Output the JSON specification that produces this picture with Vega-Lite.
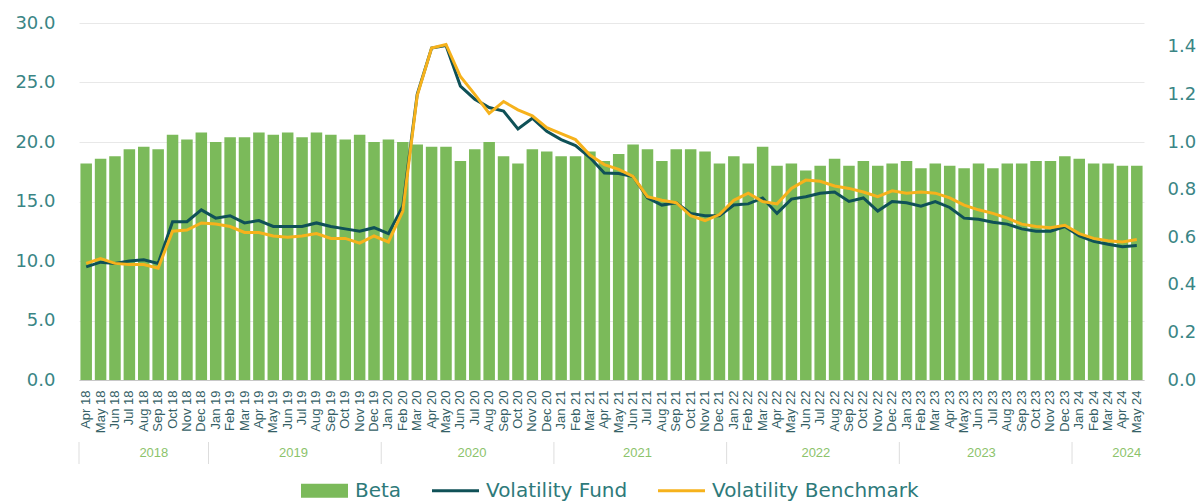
{
  "$schema": "https://vega.github.io/schema/vega-lite/v6.json",
  "background": "white",
  "padding": {"left": 14, "top": 14, "right": 5, "bottom": 0},
  "bounds": "flush",
  "spacing": 62,
  "config": {"view": {"stroke": null}},
  "datasets": {
    "months": [
      {"m": "Apr 18", "beta": 0.91, "fund": 9.5, "bench": 9.8},
      {"m": "May 18", "beta": 0.93, "fund": 9.9, "bench": 10.2},
      {"m": "Jun 18", "beta": 0.94, "fund": 9.8, "bench": 9.8},
      {"m": "Jul 18", "beta": 0.97, "fund": 10.0, "bench": 9.7},
      {"m": "Aug 18", "beta": 0.98, "fund": 10.1, "bench": 9.7},
      {"m": "Sep 18", "beta": 0.97, "fund": 9.8, "bench": 9.4},
      {"m": "Oct 18", "beta": 1.03, "fund": 13.3, "bench": 12.5},
      {"m": "Nov 18", "beta": 1.01, "fund": 13.3, "bench": 12.6},
      {"m": "Dec 18", "beta": 1.04, "fund": 14.3, "bench": 13.2},
      {"m": "Jan 19", "beta": 1.0, "fund": 13.6, "bench": 13.1},
      {"m": "Feb 19", "beta": 1.02, "fund": 13.8, "bench": 12.9},
      {"m": "Mar 19", "beta": 1.02, "fund": 13.2, "bench": 12.4},
      {"m": "Apr 19", "beta": 1.04, "fund": 13.4, "bench": 12.4},
      {"m": "May 19", "beta": 1.03, "fund": 12.9, "bench": 12.1},
      {"m": "Jun 19", "beta": 1.04, "fund": 12.9, "bench": 12.0},
      {"m": "Jul 19", "beta": 1.02, "fund": 12.9, "bench": 12.1},
      {"m": "Aug 19", "beta": 1.04, "fund": 13.2, "bench": 12.3},
      {"m": "Sep 19", "beta": 1.03, "fund": 12.9, "bench": 11.9},
      {"m": "Oct 19", "beta": 1.01, "fund": 12.7, "bench": 11.9},
      {"m": "Nov 19", "beta": 1.03, "fund": 12.5, "bench": 11.5},
      {"m": "Dec 19", "beta": 1.0, "fund": 12.8, "bench": 12.1},
      {"m": "Jan 20", "beta": 1.01, "fund": 12.3, "bench": 11.6},
      {"m": "Feb 20", "beta": 1.0, "fund": 14.6, "bench": 14.2},
      {"m": "Mar 20", "beta": 0.99, "fund": 24.0, "bench": 23.9},
      {"m": "Apr 20", "beta": 0.98, "fund": 27.9, "bench": 27.9},
      {"m": "May 20", "beta": 0.98, "fund": 28.1, "bench": 28.2},
      {"m": "Jun 20", "beta": 0.92, "fund": 24.7, "bench": 25.5},
      {"m": "Jul 20", "beta": 0.97, "fund": 23.6, "bench": 24.0},
      {"m": "Aug 20", "beta": 1.0, "fund": 22.9, "bench": 22.4},
      {"m": "Sep 20", "beta": 0.94, "fund": 22.6, "bench": 23.4},
      {"m": "Oct 20", "beta": 0.91, "fund": 21.1, "bench": 22.7},
      {"m": "Nov 20", "beta": 0.97, "fund": 22.0, "bench": 22.2},
      {"m": "Dec 20", "beta": 0.96, "fund": 20.9, "bench": 21.2},
      {"m": "Jan 21", "beta": 0.94, "fund": 20.2, "bench": 20.7},
      {"m": "Feb 21", "beta": 0.94, "fund": 19.7, "bench": 20.2},
      {"m": "Mar 21", "beta": 0.96, "fund": 18.7, "bench": 18.9},
      {"m": "Apr 21", "beta": 0.92, "fund": 17.4, "bench": 18.1},
      {"m": "May 21", "beta": 0.95, "fund": 17.35, "bench": 17.7},
      {"m": "Jun 21", "beta": 0.99, "fund": 17.1, "bench": 17.1},
      {"m": "Jul 21", "beta": 0.97, "fund": 15.3, "bench": 15.4},
      {"m": "Aug 21", "beta": 0.92, "fund": 14.7, "bench": 15.1},
      {"m": "Sep 21", "beta": 0.97, "fund": 14.9, "bench": 14.9},
      {"m": "Oct 21", "beta": 0.97, "fund": 14.0, "bench": 13.8},
      {"m": "Nov 21", "beta": 0.96, "fund": 13.8, "bench": 13.4},
      {"m": "Dec 21", "beta": 0.91, "fund": 13.8, "bench": 13.9},
      {"m": "Jan 22", "beta": 0.94, "fund": 14.7, "bench": 15.1},
      {"m": "Feb 22", "beta": 0.91, "fund": 14.8, "bench": 15.7},
      {"m": "Mar 22", "beta": 0.98, "fund": 15.3, "bench": 15.0},
      {"m": "Apr 22", "beta": 0.9, "fund": 14.0, "bench": 14.8},
      {"m": "May 22", "beta": 0.91, "fund": 15.2, "bench": 16.1},
      {"m": "Jun 22", "beta": 0.88, "fund": 15.4, "bench": 16.8},
      {"m": "Jul 22", "beta": 0.9, "fund": 15.7, "bench": 16.7},
      {"m": "Aug 22", "beta": 0.93, "fund": 15.8, "bench": 16.3},
      {"m": "Sep 22", "beta": 0.9, "fund": 15.0, "bench": 16.1},
      {"m": "Oct 22", "beta": 0.92, "fund": 15.3, "bench": 15.8},
      {"m": "Nov 22", "beta": 0.9, "fund": 14.2, "bench": 15.4},
      {"m": "Dec 22", "beta": 0.91, "fund": 15.0, "bench": 15.9},
      {"m": "Jan 23", "beta": 0.92, "fund": 14.9, "bench": 15.7},
      {"m": "Feb 23", "beta": 0.89, "fund": 14.6, "bench": 15.8},
      {"m": "Mar 23", "beta": 0.91, "fund": 15.0, "bench": 15.7},
      {"m": "Apr 23", "beta": 0.9, "fund": 14.5, "bench": 15.3},
      {"m": "May 23", "beta": 0.89, "fund": 13.6, "bench": 14.7},
      {"m": "Jun 23", "beta": 0.91, "fund": 13.5, "bench": 14.3},
      {"m": "Jul 23", "beta": 0.89, "fund": 13.25, "bench": 14.0},
      {"m": "Aug 23", "beta": 0.91, "fund": 13.1, "bench": 13.6},
      {"m": "Sep 23", "beta": 0.91, "fund": 12.7, "bench": 13.1},
      {"m": "Oct 23", "beta": 0.92, "fund": 12.5, "bench": 12.9},
      {"m": "Nov 23", "beta": 0.92, "fund": 12.5, "bench": 12.8},
      {"m": "Dec 23", "beta": 0.94, "fund": 12.9, "bench": 13.0},
      {"m": "Jan 24", "beta": 0.93, "fund": 12.1, "bench": 12.3},
      {"m": "Feb 24", "beta": 0.91, "fund": 11.65, "bench": 11.9},
      {"m": "Mar 24", "beta": 0.91, "fund": 11.4, "bench": 11.7},
      {"m": "Apr 24", "beta": 0.9, "fund": 11.2, "bench": 11.6},
      {"m": "May 24", "beta": 0.9, "fund": 11.3, "bench": 11.8}
    ],
    "years": [
      {"year": "2018", "pos": 5.2},
      {"year": "2019", "pos": 14.9},
      {"year": "2020", "pos": 27.3},
      {"year": "2021", "pos": 38.8},
      {"year": "2022", "pos": 51.2},
      {"year": "2023", "pos": 62.7},
      {"year": "2024", "pos": 72.8}
    ],
    "seps": [
      {"pos": 0}, {"pos": 9}, {"pos": 21}, {"pos": 33}, {"pos": 45}, {"pos": 57}, {"pos": 69}
    ]
  },
  "vconcat": [
    {
      "width": 1065,
      "height": 357,
      "data": {"name": "months"},
      "encoding": {
        "x": {
          "field": "m",
          "type": "ordinal",
          "sort": null,
          "title": null,
          "scale": {"paddingInner": 0.2, "paddingOuter": 0.1},
          "axis": {
            "labelAngle": -90,
            "labelFont": "Liberation Sans",
            "labelFontSize": 13,
            "labelColor": "#355f66",
            "labelOverlap": false,
            "labelPadding": 10,
            "ticks": false,
            "tickSize": 0,
            "domainColor": "#c8c8c8",
            "domainWidth": 1
          }
        }
      },
      "layer": [
        {
          "mark": {"type": "bar", "color": "#7bba5a"},
          "encoding": {
            "y": {
              "field": "beta",
              "type": "quantitative",
              "title": null,
              "scale": {"domain": [0, 1.5], "nice": false},
              "axis": {
                "orient": "right",
                "values": [0, 0.2, 0.4, 0.6, 0.8, 1.0, 1.2, 1.4],
                "format": ".1f",
                "grid": false,
                "domain": false,
                "ticks": false,
                "tickSize": 0,
                "labelPadding": 23,
                "labelFont": "DejaVu Sans",
                "labelFontSize": 18,
                "labelColor": "#3a8585"
              }
            },
            "color": {
              "datum": "Beta",
              "type": "nominal",
              "scale": {
                "domain": ["Beta", "Volatility Fund", "Volatility Benchmark"],
                "range": ["#7bba5a", "#0f5157", "#f6b21c"]
              },
              "legend": {
                "orient": "none",
                "legendX": 222,
                "legendY": 444,
                "direction": "horizontal",
                "columns": 3,
                "title": null,
                "labelFont": "DejaVu Sans",
                "labelFontSize": 20,
                "labelColor": "#2e7a7a",
                "labelLimit": 400,
                "symbolSize": 2209,
                "labelOffset": 7,
                "columnPadding": 30,
                "symbolStrokeWidth": 0,
                "encode": {
                  "symbols": {
                    "update": {
                      "shape": {"signal": "datum.value === 'Beta' ? 'M-1,-0.3H1V0.3H-1Z' : 'M-1,-0.065H1V0.065H-1Z'"},
                      "fill": {"signal": "datum.value === 'Beta' ? '#7bba5a' : datum.value === 'Volatility Fund' ? '#0f5157' : '#f6b21c'"},
                      "stroke": {"value": "transparent"},
                      "opacity": {"value": 1}
                    }
                  }
                }
              }
            }
          }
        },
        {
          "encoding": {
            "y": {
              "type": "quantitative",
              "title": null,
              "scale": {"domain": [0, 30], "nice": false},
              "axis": {
                "orient": "left",
                "values": [0, 5, 10, 15, 20, 25, 30],
                "format": ".1f",
                "grid": true,
                "gridColor": "#e8e8e8",
                "gridWidth": 1,
                "domain": false,
                "ticks": false,
                "tickSize": 0,
                "labelPadding": 24,
                "labelFont": "DejaVu Sans",
                "labelFontSize": 18,
                "labelColor": "#3a8585"
              }
            }
          },
          "layer": [
            {
              "mark": {"type": "line", "strokeWidth": 3},
              "encoding": {
                "y": {"field": "fund", "type": "quantitative"},
                "color": {"datum": "Volatility Fund", "type": "nominal"}
              }
            },
            {
              "mark": {"type": "line", "strokeWidth": 3},
              "encoding": {
                "y": {"field": "bench", "type": "quantitative"},
                "color": {"datum": "Volatility Benchmark", "type": "nominal"}
              }
            }
          ]
        }
      ],
      "resolve": {"scale": {"y": "independent"}}
    },
    {
      "width": 1065,
      "height": 22,
      "layer": [
        {
          "data": {"name": "seps"},
          "mark": {"type": "rule", "color": "#dddddd", "strokeWidth": 1},
          "encoding": {
            "x": {"field": "pos", "type": "quantitative", "scale": {"domain": [0, 74], "nice": false, "zero": false}, "axis": null}
          }
        },
        {
          "data": {"name": "years"},
          "mark": {"type": "text", "font": "Liberation Sans", "fontSize": 13, "color": "#8cc36b"},
          "encoding": {
            "x": {"field": "pos", "type": "quantitative", "axis": null},
            "text": {"field": "year"}
          }
        }
      ]
    }
  ]
}
